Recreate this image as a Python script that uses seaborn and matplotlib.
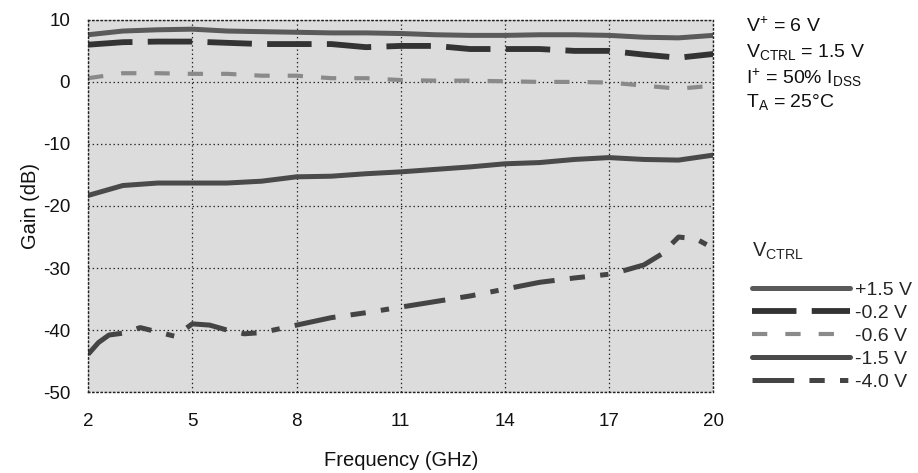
import matplotlib
matplotlib.use("Agg")
import matplotlib.pyplot as plt
import seaborn as sns
import pandas as pd

# gain vs frequency, one curve per V_CTRL setting
freq = [2, 3, 4, 5, 6, 7, 8, 9, 10, 11, 12, 13, 14, 15, 16, 17, 18, 19, 20]
gain_p15 = [7.6, 8.2, 8.4, 8.5, 8.2, 8.1, 8.0, 7.9, 7.9, 7.8, 7.6, 7.5, 7.5, 7.6, 7.6, 7.5, 7.2, 7.1, 7.5]
gain_m02 = [6.0, 6.4, 6.5, 6.5, 6.3, 6.1, 6.1, 6.1, 5.6, 5.8, 5.8, 5.3, 5.3, 5.3, 5.0, 5.0, 4.4, 3.9, 4.5]
gain_m06 = [0.6, 1.4, 1.4, 1.3, 1.3, 1.0, 1.0, 0.6, 0.6, 0.3, 0.2, 0.2, 0.1, 0.0, 0.0, -0.1, -0.6, -1.1, -0.6]
gain_m15 = [-18.3, -16.7, -16.3, -16.3, -16.3, -16.0, -15.3, -15.2, -14.8, -14.5, -14.1, -13.7, -13.2, -13.0, -12.5, -12.2, -12.5, -12.6, -11.8]

freq_m40 = [2.0, 2.3, 2.6, 3.0, 3.5, 4.0, 4.5, 5.0, 5.5, 6.0, 6.5, 7.0, 7.5, 8.0, 9.0, 10.0, 11.0,
            12.0, 13.0, 14.0, 15.0, 16.0, 17.0, 17.5, 18.0, 18.5, 19.0, 19.5, 20.0]
gain_m40 = [-43.9, -42.0, -40.8, -40.5, -39.6, -40.3, -41.0, -39.0, -39.2, -40.0, -40.6, -40.4, -39.8,
            -39.2, -38.0, -37.2, -36.3, -35.4, -34.5, -33.4, -32.3, -31.6, -31.0, -30.3, -29.5, -27.8,
            -25.0, -25.3, -26.8]

labels = ["+1.5 V", "-0.2 V", "-0.6 V", "-1.5 V", "-4.0 V"]
xticks = [2, 5, 8, 11, 14, 17, 20]
yticks = [10, 0, -10, -20, -30, -40, -50]

rows = []
for lab, xs, ys in zip(labels, [freq, freq, freq, freq, freq_m40],
                       [gain_p15, gain_m02, gain_m06, gain_m15, gain_m40]):
    for x, y in zip(xs, ys):
        rows.append({"freq": x, "gain": y, "vctrl": lab})
df = pd.DataFrame(rows)

sns.set_theme(style="white")
plt.rcParams['font.family'] = ['Liberation Sans', 'DejaVu Sans']
plt.rcParams['mathtext.default'] = 'regular'
plt.rcParams['lines.scale_dashes'] = False
plt.rcParams['axes.unicode_minus'] = False

fig = plt.figure(figsize=(9.18, 4.73), dpi=100)
ax = fig.add_axes([0.096, 0.171, 0.681, 0.787])
ax.set_facecolor("#dcdcdc")

palette = {"+1.5 V": "#5a5a5a", "-0.2 V": "#333333", "-0.6 V": "#8a8a8a",
           "-1.5 V": "#4a4a4a", "-4.0 V": "#444444"}
dashes = {"+1.5 V": "", "-0.2 V": (32, 11), "-0.6 V": (11, 13),
          "-1.5 V": "", "-4.0 V": (30, 11, 11, 11, 6, 11)}
sizes = {"+1.5 V": 3.6, "-0.2 V": 4.2, "-0.6 V": 3.0, "-1.5 V": 3.6, "-4.0 V": 3.6}

sns.lineplot(data=df, x="freq", y="gain", hue="vctrl", style="vctrl", size="vctrl",
             hue_order=labels, style_order=labels, size_order=labels,
             palette=palette, dashes=dashes, sizes=sizes, ax=ax, sort=False)

ax.set_xlim(2, 20)
ax.set_ylim(-50, 10)
ax.set_xticks(xticks)
ax.set_yticks(yticks)
ax.grid(True, color="#222222", linestyle=(0, (1, 2)), linewidth=0.9)
for sp in ax.spines.values():
    sp.set_linestyle((0, (1, 2)))
    sp.set_color("#222222")
    sp.set_linewidth(1.0)
ax.tick_params(axis="both", length=0, labelsize=13.5, colors="#111111")
ax.tick_params(axis="y", pad=13)
ax.tick_params(axis="x", pad=15)
ax.set_xlabel("Frequency (GHz)", fontsize=14.5, labelpad=15, color="#111111")
ax.set_ylabel("Gain (dB)", fontsize=14.5, labelpad=2, color="#111111")

sns.move_legend(ax, loc="upper left", bbox_to_anchor=(1.05, 0.428), frameon=False,
                title="V$_{CTRL}$", fontsize=14, title_fontsize=14.5,
                handlelength=5.0, handletextpad=0.3, labelspacing=0.28,
                alignment="left", borderaxespad=0)
leg = ax.get_legend()
leg._legend_box.sep = 14

notes = ["V$^{+}$ = 6 V", "V$_{CTRL}$ = 1.5 V", "I$^{+}$ = 50% I$_{DSS}$", "T$_{A}$ = 25°C"]
for i, t in enumerate(notes):
    fig.text(0.813, 0.965 - i * 0.053, t, fontsize=14, va="top", ha="left", color="#111111")

fig.savefig("out.png", dpi=100)
